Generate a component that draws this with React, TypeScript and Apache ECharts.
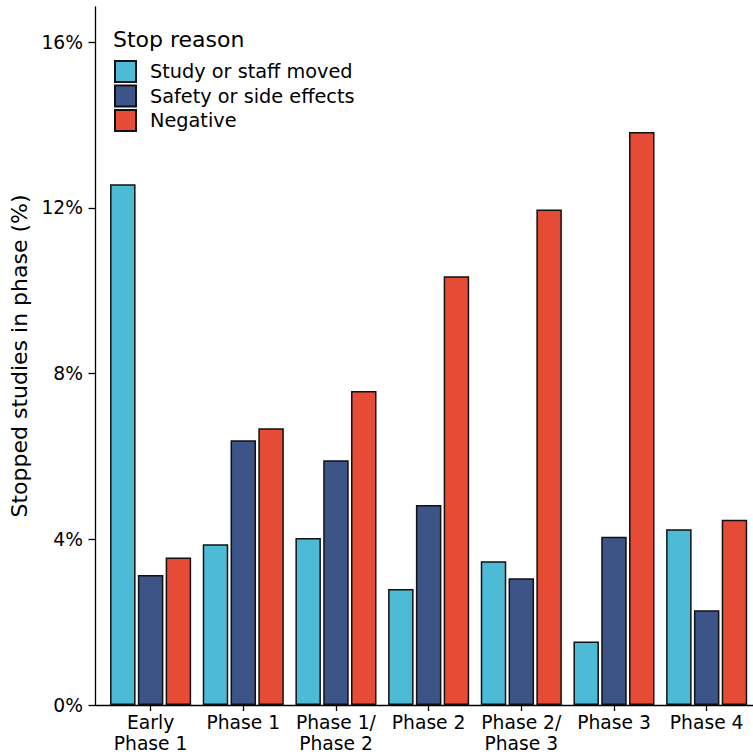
import React, { useEffect, useRef } from "react";
import * as echarts from "echarts";

const categories = ["Early\nPhase 1", "Phase 1", "Phase 1/\nPhase 2", "Phase 2", "Phase 2/\nPhase 3", "Phase 3", "Phase 4"];
const seriesNames = ["Study or staff moved", "Safety or side effects", "Negative"];
const studyMoved = [12.57, 3.88, 4.03, 2.8, 3.47, 1.53, 4.24];
const safety = [3.14, 6.39, 5.91, 4.83, 3.06, 4.06, 2.29];
const negative = [3.56, 6.68, 7.58, 10.35, 11.96, 13.83, 4.47];
const yTicks = [0, 4, 8, 12, 16];
const colors = ["#4DBBD5", "#3C5488", "#E64B35"];

const FONT = "DejaVu Sans";

export default function App() {
  const ref = useRef<HTMLDivElement>(null);
  useEffect(() => {
    if (!ref.current) return;
    const chart = echarts.init(ref.current, null, { renderer: "svg" });
    const positions = categories.map((_, i) => i + 1);
    const all = [studyMoved, safety, negative];
    chart.setOption({
      animation: false,
      backgroundColor: "#ffffff",
      textStyle: { fontFamily: FONT },
      title: {
        text: "Stop reason",
        left: 113,
        top: 26,
        padding: 0,
        textStyle: { fontFamily: FONT, fontSize: 22, fontWeight: "normal", color: "#000", lineHeight: 26 },
      },
      legend: {
        orient: "vertical",
        left: 114,
        top: 60,
        padding: 0,
        icon: "rect",
        itemWidth: 21,
        itemHeight: 21,
        itemGap: 1.5,
        data: seriesNames,
        textStyle: { fontFamily: FONT, fontSize: 19.3, color: "#000", lineHeight: 21, padding: [0, 0, 0, 9] },
      },
      grid: { left: 95, right: 0, top: 7, bottom: 51, containLabel: false },
      xAxis: {
        type: "value",
        min: 0.4,
        max: 7.5,
        splitLine: { show: false },
        axisLine: { show: true, lineStyle: { color: "#000", width: 1.3 } },
        axisTick: { show: true, customValues: positions, length: 6, lineStyle: { color: "#000", width: 1.3 } },
        axisLabel: {
          customValues: positions,
          formatter: (v: number) => categories[Math.round(v) - 1] ?? "",
          fontFamily: FONT,
          fontSize: 18.7,
          color: "#000",
          lineHeight: 21,
          margin: 7,
        },
      },
      yAxis: {
        type: "value",
        min: 0,
        max: 16.85,
        name: "Stopped studies in phase (%)",
        nameLocation: "middle",
        nameGap: 57,
        nameTextStyle: { fontFamily: FONT, fontSize: 22, color: "#000" },
        splitLine: { show: false },
        axisLine: { show: true, lineStyle: { color: "#000", width: 1.3 } },
        axisTick: { show: true, customValues: yTicks, length: 6.5, lineStyle: { color: "#000", width: 1.3 } },
        axisLabel: {
          customValues: yTicks,
          formatter: (v: number) => `${v}%`,
          fontFamily: FONT,
          fontSize: 18.7,
          color: "#000",
          margin: 12,
        },
      },
      series: seriesNames.map((name, s) => ({
        name,
        type: "bar",
        barWidth: 25.5,
        barGap: "9%",
        data: all[s].map((v, i) => [positions[i], v]),
        itemStyle: { color: colors[s], borderColor: "#111", borderWidth: 1.5 },
      })),
    });
    return () => chart.dispose();
  }, []);
  return <div ref={ref} style={{ position: "absolute", left: 0, top: 0, width: 753, height: 756 }} />;
}
